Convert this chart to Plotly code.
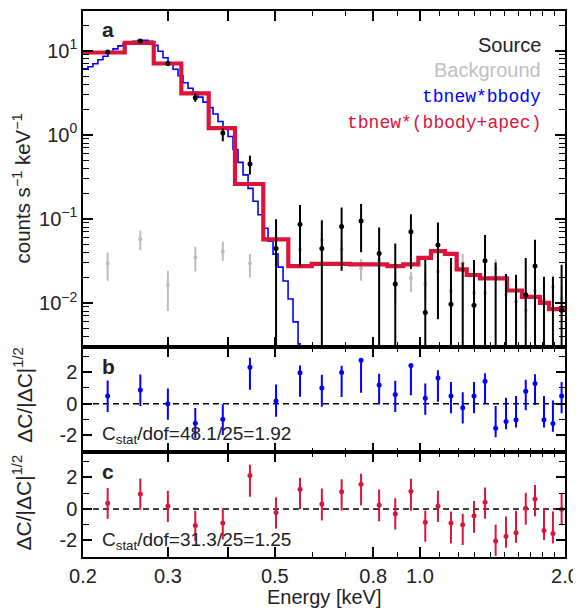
import math
import plotly.graph_objects as go

# ---------------- data ----------------
energy = [0.225, 0.263, 0.300, 0.342, 0.390, 0.444, 0.503, 0.564, 0.626, 0.688,
          0.755, 0.823, 0.889, 0.958, 1.026, 1.090, 1.160, 1.227, 1.295, 1.365,
          1.436, 1.509, 1.583, 1.658, 1.733, 1.809, 1.888, 1.968]

# source spectrum (counts s^-1 keV^-1); points below the axis are zero-count bins
src_rate = [9.7, 13.1, 7.06, 2.77, 1.05, 0.449, 0.0445, 0.0865, 0.0445, 0.0811,
            0.0947, 0.0388, 0.0168, 0.0702, 0.00767, 0.0488, 0.00964, 0.0008, 0.00938, 0.0318,
            0.0008, 0.0008, 0.0008, 0.0125, 0.0275, 0.0008, 0.0008, 0.0082]
src_hi = [10.1, 13.6, 7.5, 3.12, 1.19, 0.564, 0.0992, 0.1466, 0.0966, 0.137,
          0.1507, 0.0789, 0.0509, 0.1137, 0.0324, 0.0904, 0.0342, 0.0303, 0.0324, 0.0645,
          0.0303, 0.0221, 0.0217, 0.0342, 0.0563, 0.0205, 0.0205, 0.0285]
src_lo = [9.3, 12.6, 6.6, 2.48, 0.842, 0.338, 0.0005, 0.0274, 0.0005, 0.0242,
          0.0402, 0.0005, 0.0005, 0.0253, 0.0005, 0.0064, 0.0005, 0.0005, 0.0005, 0.0005,
          0.0005, 0.0005, 0.0005, 0.0005, 0.0005, 0.0005, 0.0005, 0.0005]

# background spectrum
bkg_rate = [0.0295, 0.0574, 0.0163, 0.0348, 0.041, 0.0295, 0.0601, 0.0430, 0.0565, 0.0432,
            0.0257, 0.0320, 0.0168, 0.0198, 0.0168, 0.0236, 0.0139, 0.0295, 0.0131, 0.0131,
            0.0257, 0.0125, 0.0104, 0.0082, 0.0139, 0.0110, 0.0155, 0.0113]
bkg_hi = [0.0398, 0.0721, 0.0242, 0.0466, 0.0533, 0.0381, 0.075, 0.055, 0.070, 0.055,
          0.0333, 0.041, 0.024, 0.0234, 0.023, 0.030, 0.019, 0.0381, 0.018, 0.018,
          0.033, 0.017, 0.015, 0.012, 0.019, 0.016, 0.021, 0.016]
bkg_lo = [0.0184, 0.0426, 0.0080, 0.0237, 0.0318, 0.0201, 0.046, 0.032, 0.043, 0.032,
          0.0184, 0.023, 0.010, 0.0136, 0.011, 0.016, 0.009, 0.0229, 0.008, 0.008,
          0.018, 0.008, 0.006, 0.005, 0.009, 0.007, 0.010, 0.007]

# model tbnew*bbody (step left edges and levels)
blue_edges = [0.2000, 0.2048, 0.2097, 0.2148, 0.2200, 0.2254, 0.2308, 0.2364, 0.2421, 0.2480,
              0.2540, 0.2601, 0.2664, 0.2729, 0.2795, 0.2862, 0.2931, 0.3002, 0.3075, 0.3149,
              0.3225, 0.3303, 0.3383, 0.3465, 0.3548, 0.3634, 0.3722, 0.3812, 0.3904, 0.3999,
              0.4095, 0.4194, 0.4296, 0.4400, 0.4506, 0.4615, 0.4727, 0.4841, 0.4958, 0.5078,
              0.5201, 0.5327, 0.5455, 0.5587, 0.5641]
blue_vals = [6.12, 6.46, 7.01, 7.82, 8.61, 9.47, 10.56, 11.46, 12.11, 12.61,
             12.96, 13.32, 13.32, 12.96, 11.62, 9.87, 8.26, 7.21, 6.03, 5.05,
             4.17, 3.59, 3.22, 2.81, 2.45, 2.11, 1.77, 1.44, 1.17, 0.955,
             0.670, 0.470, 0.334, 0.231, 0.162, 0.112, 0.0775, 0.0543, 0.0381, 0.0267,
             0.0182, 0.01115, 0.00595, 0.00326, 0.001]

# model tbnew*(bbody+apec)
red_edges = [0.2, 0.2441, 0.2804, 0.3199, 0.3646, 0.4134, 0.4732, 0.5333, 0.5964, 0.7161,
             0.8559, 0.9237, 0.9926, 1.0545, 1.1273, 1.1920, 1.2505, 1.3327, 1.5160, 1.6289,
             1.7750, 1.8530, 2.0]
red_vals = [9.55, 12.44, 7.07, 3.12, 1.20, 0.260, 0.0569, 0.0274, 0.0292, 0.0288,
            0.0274, 0.0288, 0.0344, 0.0413, 0.0384, 0.0251, 0.0215, 0.0196, 0.01406, 0.01178,
            0.0100, 0.00842]

# residuals, panel b (tbnew*bbody)
res_b = [0.48, 0.86, 0.0, -1.23, -0.98, 2.31, 0.17, 1.96, 1.0, 1.98,
         2.75, 1.19, 0.58, 2.42, 0.34, 1.63, 0.48, -0.25, 0.48, 1.42,
         -1.56, -1.13, -1.02, 0.79, 1.27, -1.02, -1.25, 0.48]
res_b_up = [0.98, 0.98, 0.96, 0.95, 0.94, 0.6, 1.04, 0.46, 0.83, 0.42,
            0.08, 0.71, 0.875, 0.08, 0.94, 0.48, 0.9, 0.98, 0.9, 0.5,
            1.42, 1.5, 1.5, 0.73, 0.6, 1.5, 1.46, 0.9]
res_b_dn = [1.0, 1.0, 1.02, 0.95, 1.0, 1.42, 1.0, 1.52, 1.2, 1.56,
            2.06, 1.23, 1.1, 1.88, 1.04, 1.5, 1.08, 1.0, 1.08, 1.4,
            0.56, 0.48, 0.48, 1.2, 1.35, 0.48, 0.52, 1.08]

# residuals, panel c (tbnew*(bbody+apec))
res_c = [0.35, 0.94, 0.19, -1.06, -0.9, 2.12, -0.23, 1.25, 0.31, 1.08,
         1.56, 0.25, -0.31, 1.12, -0.85, 0.19, -0.9, -1.0, -0.44, 0.42,
         -2.04, -1.73, -1.52, 0.04, 0.63, -1.37, -1.56, -0.02]
res_c_up = [0.98, 0.98, 0.96, 0.94, 0.94, 0.67, 0.96, 0.73, 0.98, 0.79,
            0.67, 0.98, 0.98, 0.79, 0.75, 0.96, 0.73, 0.69, 0.94, 0.94,
            1.04, 1.25, 1.4, 0.98, 0.88, 1.42, 1.4, 0.96]
res_c_dn = [0.98, 1.0, 1.02, 0.98, 1.04, 1.35, 1.02, 1.25, 1.04, 1.19,
            1.35, 1.04, 1.0, 1.23, 1.23, 1.02, 1.29, 1.29, 1.08, 1.04,
            0.94, 0.73, 0.63, 1.04, 1.1, 0.6, 0.63, 0.98]

x_major = [0.2, 0.3, 0.4, 0.5, 0.8, 1.0, 2.0]
x_major_text = ["0.2", "0.3", "", "0.5", "0.8", "1.0", "2.0"]
x_minor = [0.6, 0.7, 0.9, 1.1, 1.2, 1.3, 1.4, 1.5, 1.6, 1.7, 1.8, 1.9]
y_major = [0.01, 0.1, 1, 10]
y_major_text = ["10<sup>\u22122</sup>", "10<sup>\u22121</sup>", "10<sup>0</sup>", "10<sup>1</sup>"]
res_major = [-2, 0, 2]
res_major_text = ["-2", "0", "2"]
res_minor = [-3, -1, 1, 3]

# ---------------- styling ----------------
FONT = "Liberation Sans, Arial, Helvetica, sans-serif"
MONO = "Liberation Mono, Courier New, monospace"
BLACK = "black"
GRAY = "#bdbdbd"
BLUE = "#0000ff"
RED = "#dc143c"

fig = go.Figure()


def diff_up(v, hi):
    return [h - x for x, h in zip(v, hi)]


def diff_dn(v, lo):
    return [x - l for x, l in zip(v, lo)]


# background points
fig.add_trace(go.Scatter(
    x=energy, y=bkg_rate, mode="markers", xaxis="x", yaxis="y",
    marker=dict(color=GRAY, size=4),
    error_y=dict(type="data", symmetric=False, array=diff_up(bkg_rate, bkg_hi),
                 arrayminus=diff_dn(bkg_rate, bkg_lo), color=GRAY, thickness=2, width=0),
    showlegend=False))

# blue model
fig.add_trace(go.Scatter(
    x=blue_edges, y=blue_vals, mode="lines", line=dict(color=BLUE, width=1.6, shape="hv"),
    xaxis="x", yaxis="y", showlegend=False))

# red model
fig.add_trace(go.Scatter(
    x=red_edges, y=red_vals + [red_vals[-1]], mode="lines",
    line=dict(color=RED, width=4.2, shape="hv"),
    xaxis="x", yaxis="y", showlegend=False))

# source points
fig.add_trace(go.Scatter(
    x=energy, y=src_rate, mode="markers", xaxis="x", yaxis="y",
    marker=dict(color=BLACK, size=5),
    error_y=dict(type="data", symmetric=False, array=diff_up(src_rate, src_hi),
                 arrayminus=diff_dn(src_rate, src_lo), color=BLACK, thickness=2, width=0),
    showlegend=False))

# residuals b
fig.add_trace(go.Scatter(
    x=energy, y=res_b, mode="markers", xaxis="x2", yaxis="y2",
    marker=dict(color=BLUE, size=5),
    error_y=dict(type="data", symmetric=False, array=res_b_up, arrayminus=res_b_dn,
                 color=BLUE, thickness=2, width=0),
    showlegend=False))

# residuals c
fig.add_trace(go.Scatter(
    x=energy, y=res_c, mode="markers", xaxis="x3", yaxis="y3",
    marker=dict(color=RED, size=5),
    error_y=dict(type="data", symmetric=False, array=res_c_up, arrayminus=res_c_dn,
                 color=RED, thickness=2, width=0),
    showlegend=False))

xcommon = dict(
    type="log", range=[math.log10(0.2), math.log10(2.0)],
    showline=True, linecolor=BLACK, linewidth=1.5, mirror="ticks",
    ticks="inside", ticklen=10, tickwidth=1.5, tickcolor=BLACK,
    tickmode="array", tickvals=x_major, ticktext=x_major_text,
    minor=dict(tickmode="array", tickvals=x_minor, ticklen=5, tickwidth=1.3,
               ticks="inside", tickcolor=BLACK, showgrid=False),
    showgrid=False, zeroline=False,
    tickfont=dict(family=FONT, size=20, color="#222"),
)

rcommon = dict(
    showline=True, linecolor=BLACK, linewidth=1.5, mirror="ticks",
    ticks="inside", ticklen=9, tickwidth=1.5, tickcolor=BLACK,
    tickmode="array", tickvals=res_major, ticktext=res_major_text,
    minor=dict(tickmode="array", tickvals=res_minor, ticklen=6, tickwidth=1.3,
               ticks="inside", tickcolor=BLACK, showgrid=False),
    showgrid=False, zeroline=False,
    tickfont=dict(family=FONT, size=20, color="#222"),
)

y_minor = [m * d for d in [0.001, 0.01, 0.1, 1, 10] for m in range(2, 10)]

# page body adds an 8px offset; figure is sized so the plot area lands at x 83-565, y 9-557
fig.update_layout(
    width=573, height=602,
    margin=dict(l=75, r=16, t=1, b=53),
    paper_bgcolor="white", plot_bgcolor="white",
    font=dict(family=FONT, size=20, color="#222"),
    xaxis=dict(xcommon, anchor="y", showticklabels=False),
    xaxis2=dict(xcommon, anchor="y2", showticklabels=False),
    xaxis3=dict(xcommon, anchor="y3", showticklabels=True),
    yaxis=dict(
        domain=[0.385, 1.0], anchor="x", type="log", range=[-2.522, 1.474],
        showline=True, linecolor=BLACK, linewidth=1.5, mirror="ticks",
        ticks="inside", ticklen=10, tickwidth=1.5, tickcolor=BLACK,
        tickmode="array", tickvals=y_major, ticktext=y_major_text,
        minor=dict(tickmode="array", tickvals=y_minor, ticklen=6, tickwidth=1.3,
                   ticks="inside", tickcolor=BLACK, showgrid=False),
        showgrid=False, zeroline=False,
        tickfont=dict(family=FONT, size=20, color="#222"),
    ),
    yaxis2=dict(rcommon, domain=[0.1916, 0.385], anchor="x2", range=[-3.08, 3.6]),
    yaxis3=dict(rcommon, domain=[0.0, 0.1916], anchor="x3", range=[-3.05, 3.58]),
    shapes=[
        dict(type="line", xref="x2 domain", yref="y2", x0=0, x1=1, y0=0, y1=0,
             line=dict(color=BLACK, width=1.5, dash="6px,4px"), layer="below"),
        dict(type="line", xref="x3 domain", yref="y3", x0=0, x1=1, y0=0, y1=0,
             line=dict(color=BLACK, width=1.5, dash="6px,4px"), layer="below"),
    ],
)

ann = []
# axis titles
ann.append(dict(text="counts s<sup>\u22121</sup> keV<sup>\u22121</sup>", xref="paper", yref="paper",
                x=-0.1265, y=0.675, textangle=-90, showarrow=False,
                font=dict(family=FONT, size=20.5, color="#222"), xanchor="center", yanchor="middle"))
for yc in [0.2975, 0.1004]:
    ann.append(dict(text="\u0394C/|\u0394C|<sup>1/2</sup>", xref="paper", yref="paper",
                    x=-0.126, y=yc, textangle=-90, showarrow=False,
                    font=dict(family=FONT, size=21, color="#222"), xanchor="center", yanchor="middle"))
ann.append(dict(text="Energy [keV]", xref="paper", yref="paper", x=0.5, y=-0.073,
                showarrow=False, font=dict(family=FONT, size=20, color="#222"),
                xanchor="center", yanchor="middle"))
# panel letters
for letter, yp in [("a", 0.967), ("b", 0.3485), ("c", 0.157)]:
    ann.append(dict(text="<b>%s</b>" % letter, xref="paper", yref="paper", x=0.052, y=yp,
                    showarrow=False, font=dict(family=FONT, size=21, color="#222"),
                    xanchor="center", yanchor="middle"))
# fit statistics
ann.append(dict(text="C<sub>stat</sub>/dof=48.1/25=1.92", xref="paper", yref="paper",
                x=0.0353, y=0.2226, showarrow=False, xanchor="left", yanchor="middle",
                font=dict(family=FONT, size=19, color="#222")))
ann.append(dict(text="C<sub>stat</sub>/dof=31.3/25=1.25", xref="paper", yref="paper",
                x=0.0353, y=0.0292, showarrow=False, xanchor="left", yanchor="middle",
                font=dict(family=FONT, size=19, color="#222")))
# legend texts
legend_items = [("Source", "#222", FONT, 20, 0.938),
                ("Background", "#c0c0c0", FONT, 20, 0.892),
                ("tbnew*bbody", BLUE, MONO, 18, 0.843),
                ("tbnew*(bbody+apec)", RED, MONO, 18, 0.794)]
for txt, col, fam, sz, yp in legend_items:
    ann.append(dict(text=txt, xref="paper", yref="paper", x=0.954, y=yp, showarrow=False,
                    xanchor="right", yanchor="middle", font=dict(family=fam, size=sz, color=col)))

fig.update_layout(annotations=ann)

fig.write_html("out.html")
